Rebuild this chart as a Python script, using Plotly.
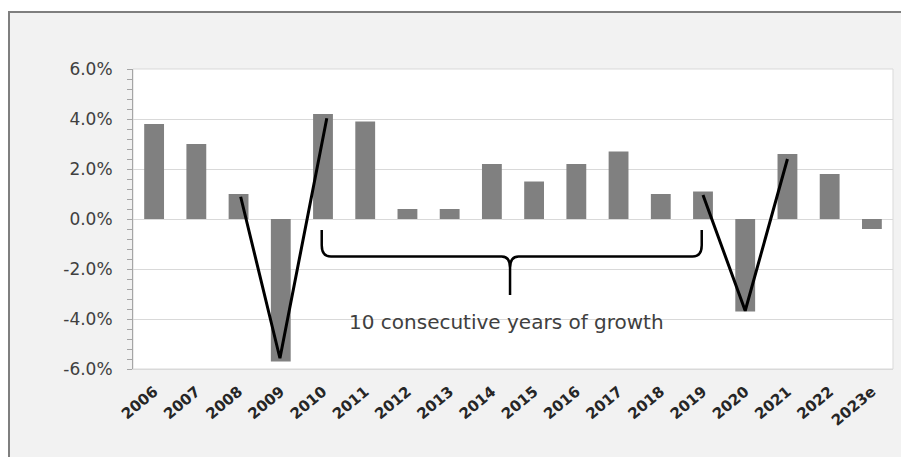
import plotly.graph_objects as go

# Annual growth rates (%), 2006 to 2023 estimate
years = ["2006", "2007", "2008", "2009", "2010", "2011", "2012", "2013", "2014",
         "2015", "2016", "2017", "2018", "2019", "2020", "2021", "2022", "2023e"]
growth = [3.8, 3.0, 1.0, -5.7, 4.2, 3.9, 0.4, 0.4, 2.2,
          1.5, 2.2, 2.7, 1.0, 1.1, -3.7, 2.6, 1.8, -0.4]

# Y axis ticks
y_ticks = [-6, -4, -2, 0, 2, 4, 6]
y_tick_labels = ["-6.0%", "-4.0%", "-2.0%", "0.0%", "2.0%", "4.0%", "6.0%"]

# V-shaped recession / recovery strokes (category position, %)
v1_x = [2.05, 2.98, 4.09]
v1_y = [0.89, -5.57, 4.03]
v2_x = [13.0, 14.0, 15.0]
v2_y = [0.96, -3.67, 2.4]

# Brace spanning the 2010-2019 expansion
brace_left, brace_right, brace_mid = 3.97, 12.97, 8.43
brace_top, brace_bar, brace_tip = -0.44, -1.5, -3.04
note_text = "10 consecutive years of growth"
note_x, note_y = 8.34, -4.13

W, H = 901, 457
ML, MR, MT, MB = 133, 8, 69, 88
pw, ph = W - ML - MR, H - MT - MB

xpos = list(range(len(years)))

fig = go.Figure()
fig.add_trace(go.Bar(x=xpos, y=growth, width=0.47, marker=dict(color="#808080", line=dict(width=0)),
                     showlegend=False, hoverinfo="skip"))
for xs, ys in ((v1_x, v1_y), (v2_x, v2_y)):
    fig.add_trace(go.Scatter(x=xs, y=ys, mode="lines", line=dict(color="#000000", width=3),
                             showlegend=False, hoverinfo="skip"))


def px_to_paper_x(px):
    return (px - ML) / pw


def px_to_paper_y(py):
    return (H - MB - py) / ph


# light grey chart area with dark frame, then white plot area
fig.add_shape(type="rect", xref="paper", yref="paper", layer="below",
              x0=px_to_paper_x(9), x1=px_to_paper_x(W + 10),
              y0=px_to_paper_y(H + 10), y1=px_to_paper_y(12),
              fillcolor="#f2f2f2", line=dict(color="#7f7f7f", width=2))
fig.add_shape(type="rect", xref="paper", yref="paper", layer="below",
              x0=0, x1=1, y0=0, y1=1, fillcolor="#ffffff", line=dict(color="#d9d9d9", width=1))

# curly brace
dx_end, dy_end = 0.22, 0.45
dx_mid, dy_mid = 0.2, 0.45
path = (
    f"M {brace_left},{brace_top} "
    f"L {brace_left},{brace_bar + dy_end} "
    f"Q {brace_left},{brace_bar} {brace_left + dx_end},{brace_bar} "
    f"L {brace_mid - dx_mid},{brace_bar} "
    f"Q {brace_mid},{brace_bar} {brace_mid},{brace_bar - dy_mid} "
    f"L {brace_mid},{brace_tip} "
    f"M {brace_mid},{brace_bar - dy_mid} "
    f"Q {brace_mid},{brace_bar} {brace_mid + dx_mid},{brace_bar} "
    f"L {brace_right - dx_end},{brace_bar} "
    f"Q {brace_right},{brace_bar} {brace_right},{brace_bar + dy_end} "
    f"L {brace_right},{brace_top}"
)
fig.add_shape(type="path", xref="x", yref="y", path=path, layer="above",
              line=dict(color="#000000", width=2.5))

fig.add_annotation(x=note_x, y=note_y, xref="x", yref="y", text=note_text, showarrow=False,
                   font=dict(family="DejaVu Sans", size=20, color="#404040"))

fig.update_layout(
    width=W, height=H,
    margin=dict(l=ML, r=MR, t=MT, b=MB, pad=0),
    paper_bgcolor="#ffffff", plot_bgcolor="rgba(0,0,0,0)",
    font=dict(family="DejaVu Sans", color="#404040"),
    xaxis=dict(range=[-0.5, len(years) - 0.5], tickmode="array", tickvals=xpos, ticktext=years,
               tickangle=-40, showgrid=False, zeroline=False, showline=True, linecolor="#d9d9d9",
               ticks="", ticklabelstandoff=7,
               tickfont=dict(family="DejaVu Sans", size=15, color="#262626", weight="bold")),
    yaxis=dict(range=[-6, 6], tickmode="array", tickvals=y_ticks, ticktext=y_tick_labels,
               showgrid=True, gridcolor="#d9d9d9", gridwidth=1, zeroline=False,
               showline=True, linecolor="#a6a6a6", linewidth=1,
               ticks="outside", ticklen=5, tickcolor="#a6a6a6", ticklabelstandoff=11,
               minor=dict(dtick=0.4, tick0=0, ticks="outside", ticklen=5, tickcolor="#a6a6a6",
                          showgrid=False),
               tickfont=dict(family="DejaVu Sans", size=17, color="#404040")),
)

fig.write_html("out.html")
